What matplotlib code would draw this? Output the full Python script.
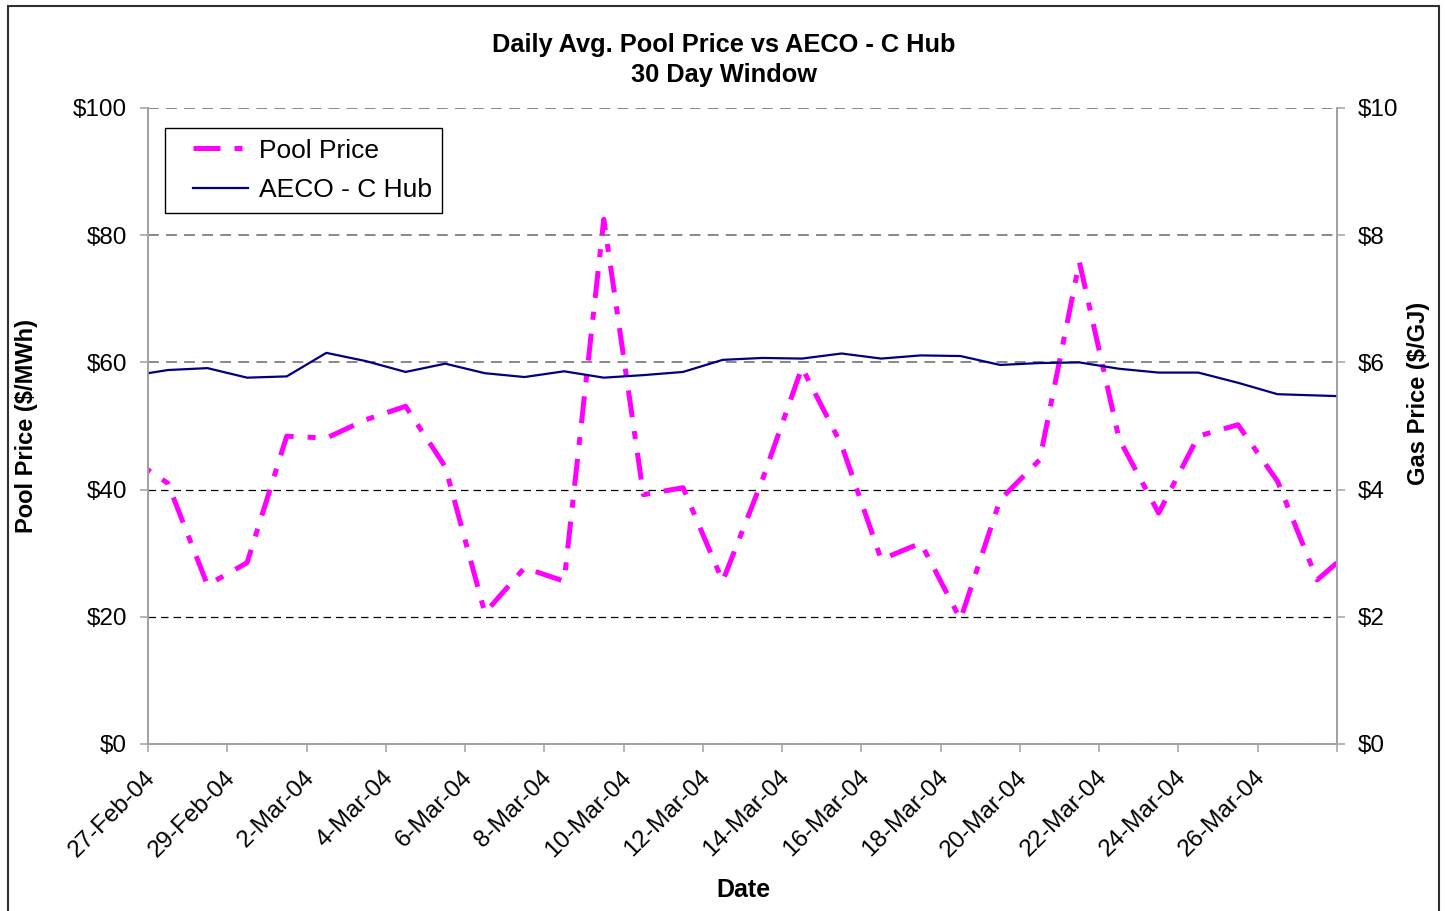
import numpy as np
import pandas as pd
import matplotlib
matplotlib.use("Agg")
import matplotlib.pyplot as plt
from matplotlib.lines import Line2D
from matplotlib.legend_handler import HandlerLine2D
from matplotlib.patches import Rectangle
from matplotlib.transforms import ScaledTranslation

plt.rcParams["font.family"] = ["Liberation Sans", "DejaVu Sans"]

# daily averages, plotted at mid-day; first and last points fall just outside the window
dates = pd.date_range("2004-02-26 12:00", periods=32, freq="D")
pool_price = [45.2, 41.0, 25.0, 28.5, 48.4, 48.1, 51.0, 53.1, 43.6, 20.6,
              27.7, 25.6, 82.5, 39.2, 40.3, 25.6, 41.5, 59.2, 47.0, 29.0,
              31.6, 19.6, 38.4, 44.7, 75.8, 48.0, 36.3, 48.4, 50.2, 41.3,
              25.8, 31.2]
gas_price = [5.78, 5.88, 5.91, 5.76, 5.78, 6.15, 6.02, 5.85, 5.98, 5.83,
             5.77, 5.86, 5.76, 5.80, 5.85, 6.04, 6.07, 6.06, 6.14, 6.06,
             6.11, 6.10, 5.96, 5.99, 6.00, 5.90, 5.84, 5.84, 5.68, 5.50,
             5.48, 5.46]

window_start = pd.Timestamp("2004-02-27")
window_end = pd.Timestamp("2004-03-28")
tick_dates = pd.date_range(window_start, window_end, freq="2D")
tick_labels = [f"{d.day}-{d:%b-%y}" for d in tick_dates[:-1]] + [""]

pool_ticks = [0, 20, 40, 60, 80, 100]
gas_ticks = [0, 2, 4, 6, 8, 10]

magenta = "#FF00FF"
navy = "#000080"
axis_grey = "#A0A0A0"
pool_dash = (5.4, 2.8, 1.6, 2.8)

fig = plt.figure(figsize=(14.45, 9.11), dpi=100)
ax = fig.add_axes([148 / 1445, 1 - 744 / 911, 1189 / 1445, 636 / 911])
ax2 = ax.twinx()

ax.plot(dates, pool_price, color=magenta, lw=3.6, dashes=pool_dash,
        dash_capstyle="butt")
ax2.plot(dates, gas_price, color=navy, lw=1.6)

ax.set_xlim(window_start, window_end)
ax.set_ylim(0, 100)
ax2.set_ylim(0, 10)

ax.set_xticks(tick_dates)
ax.set_xticklabels(tick_labels, rotation=45, ha="right", va="top", fontsize=17.5)
ax.set_yticks(pool_ticks)
ax.set_yticklabels([f"${v}" for v in pool_ticks], fontsize=17.5)
ax2.set_yticks(gas_ticks)
ax2.set_yticklabels([f"${v}" for v in gas_ticks], fontsize=17.5)

ax.tick_params(axis="x", length=6, width=1.1, color=axis_grey, pad=10)
ax.tick_params(axis="y", length=6, width=1.1, color=axis_grey, pad=9)
ax2.tick_params(axis="y", length=6, width=1.1, color=axis_grey, pad=9)

shift = ScaledTranslation(12 / 100, 0, fig.dpi_scale_trans)
for lbl in ax.get_xticklabels():
    lbl.set_transform(lbl.get_transform() + shift)

# horizontal dashed gridlines
ax.yaxis.grid(True, linestyle=(0, (6, 4)), lw=1)
for val, gl in zip(pool_ticks, ax.get_ygridlines()):
    gl.set_color("#7F7F7F" if val >= 60 else "black")
    gl.set_linewidth(1.3 if val >= 60 else 0.9)
ax.set_axisbelow(True)

for a in (ax, ax2):
    a.spines["top"].set_visible(False)
    for s in ("left", "bottom", "right"):
        a.spines[s].set_color(axis_grey)
        a.spines[s].set_linewidth(1.2)
ax.patch.set_visible(False)

handles = [Line2D([], [], color=magenta, lw=3.6, dashes=pool_dash),
           Line2D([], [], color=navy, lw=1.6)]
leg = ax2.legend(handles, ["Pool Price", "AECO - C Hub"], loc="upper left",
                 bbox_to_anchor=(17 / 1189, 616 / 636), borderaxespad=0,
                 fontsize=19, frameon=True, fancybox=False, framealpha=1,
                 edgecolor="black", handlelength=2.73, handletextpad=0.42,
                 labelspacing=0.6, borderpad=0.4,
                 handler_map={Line2D: HandlerLine2D(xpad=0.65)})
leg.get_frame().set_linewidth(1.0)

fig.text(724 / 1445, 1 - 60 / 911, "Daily Avg. Pool Price vs AECO - C Hub\n30 Day Window",
         ha="center", va="center", fontsize=18.3, fontweight="bold", linespacing=1.3)
fig.text(743 / 1445, 1 - 890 / 911, "Date", ha="center", va="center",
         fontsize=18, fontweight="bold")
fig.text(27 / 1445, 1 - 426 / 911, "Pool Price ($/MWh)", ha="center", va="center",
         rotation=90, fontsize=17, fontweight="bold")
fig.text(1418 / 1445, 1 - 393 / 911, "Gas Price ($/GJ)", ha="center", va="center",
         rotation=90, fontsize=17, fontweight="bold")

# outer chart frame (bottom edge runs off the picture)
frame = Rectangle((7.5 / 1445, -0.05), (1439 - 7.5) / 1445, 0.05 + 1 - 6 / 911,
                  transform=fig.transFigure, fill=False, edgecolor="#303030",
                  lw=1.5, clip_on=False)
fig.patches.append(frame)

fig.savefig("out.png", dpi=100)
